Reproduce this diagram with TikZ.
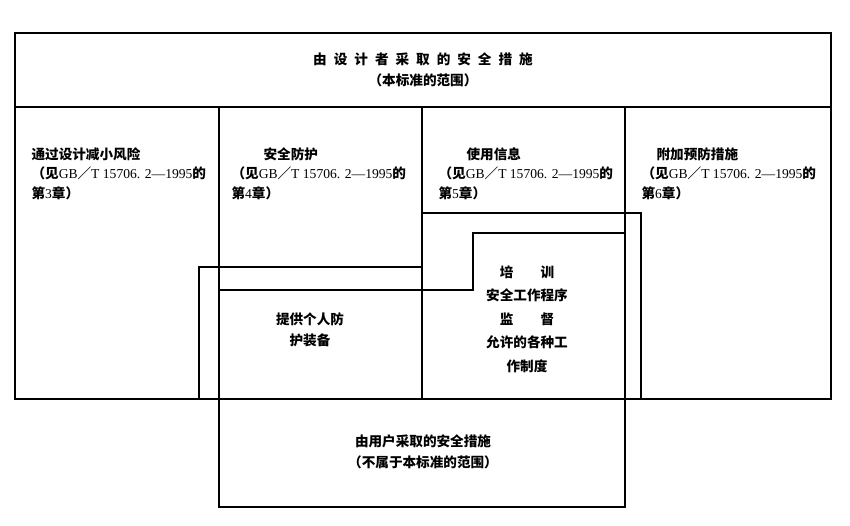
\documentclass[tikz,border=0pt]{standalone}
\usepackage{fontspec}
\setmainfont{Liberation Serif}
\newfontfamily\cjk{Noto Sans CJK SC}
\newfontfamily\latfont{Liberation Serif}
\usetikzlibrary{positioning}

\newcommand\gap{\hspace{7pt}}
\newcommand\stdref[1]{（见{\latfont\mdseries GB}／{\latfont\mdseries T 15706. 2—1995}的\\第{\latfont\mdseries #1}章）}

\begin{document}
\begin{tikzpicture}[
  x=1pt,y=-1pt,
  every node/.style={inner sep=0pt,font=\cjk\bfseries\fontsize{13.6}{19.5}\selectfont},
  col/.style={anchor=north west,align=left},
  mid/.style={align=center,font=\cjk\bfseries\fontsize{13.6}{21}\selectfont},
  tall/.style={align=center,font=\cjk\bfseries\fontsize{13.6}{23.5}\selectfont},
  every path/.style={line width=1.1pt},
  ]
  \useasboundingbox (0,0) rectangle (850,526);
  % frames
  \coordinate (tl) at (15,33);
  \coordinate (br) at (831,399);
  \draw (tl) rectangle (br);
  \draw (15,107) -- (831,107);
  \draw (219,107) -- (219,507) -- (625,507) -- (625,107);
  \draw (422,107) -- (422,399);
  \draw (218,290) -- (473,290) -- (473,233) -- (625,233);
  \draw (199,399) -- (199,267) -- (422,267);
  \draw (422,213) -- (641,213) -- (641,399);
  % texts
  \node[mid](designer) at (423,70)
    {由\gap{}设\gap{}计\gap{}者\gap{}采\gap{}取\gap{}的\gap{}安\gap{}全\gap{}措\gap{}施\\（本标准的范围）};
  \node[col](design) at (31,147) {通过设计减小风险\\\stdref{3}};
  \node[col](guard) at (231,147) {\hspace*{32pt}安全防护\\\stdref{4}};
  \node[col](info) at (438,147) {\hspace*{28pt}使用信息\\\stdref{5}};
  \node[col](extra) at (641,147) {\hspace*{15pt}附加预防措施\\\stdref{6}};
  \node[mid](ppe) at (310,330) {提供个人防\\护装备};
  \node[tall](train) at (527,319)
    {培\hspace{2em}训\\安全工作程序\\监\hspace{2em}督\\允许的各种工\\作制度};
  \node[mid](user) at (423,452) {由用户采取的安全措施\\（不属于本标准的范围）};
\end{tikzpicture}
\end{document}
